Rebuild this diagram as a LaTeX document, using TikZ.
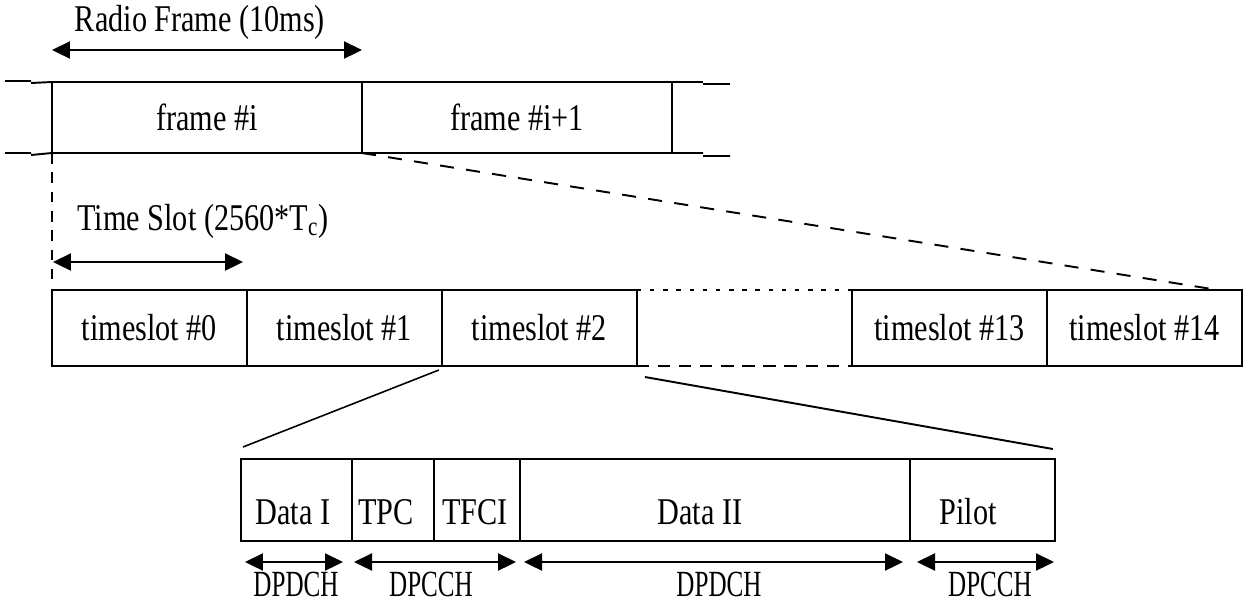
\documentclass[tikz,border=0pt]{standalone}
\usepackage{fontspec}
\setmainfont{Liberation Serif}[FakeStretch=0.8]
\newfontfamily\chfont{Liberation Serif}[FakeStretch=0.68]
\usetikzlibrary{arrows.meta,calc}
\tikzset{
  framebox/.style={draw, line width=1.1pt, inner sep=0pt, outer sep=0pt, anchor=north west, minimum width=6.2cm, minimum height=1.42cm},
  slotbox/.style={draw, line width=1.1pt, inner sep=0pt, outer sep=0pt, anchor=north west, minimum width=3.9cm, minimum height=1.52cm},
  fieldbox/.style={draw, line width=0.9pt, inner sep=0pt, outer sep=0pt, anchor=north west, minimum height=1.64cm},
  span/.style={{Triangle[length=0.36cm,width=0.34cm]}-{Triangle[length=0.36cm,width=0.34cm]}, line width=1.3pt},
  zoomline/.style={line width=1.1pt, dash pattern=on 8pt off 7pt},
  chlabel/.style={font=\chfont\fontsize{21}{25}\selectfont, inner sep=0pt},
}
\begin{document}
\begin{tikzpicture}[x=0.02cm, y=-0.02cm, font=\fontsize{21.5}{25}\selectfont]
\useasboundingbox (0,0) rectangle (1248,603);
% radio frames
\node[framebox] (fr0) at (52,82){frame \#i};
\node[framebox] (fr1) at (fr0.north east){frame \#i+1};
\coordinate (lt0) at (5,81); \coordinate (lt1) at (31,81); \coordinate (lt2) at (31,83);
\coordinate (lb0) at (5,153); \coordinate (lb1) at (31,153); \coordinate (lb2) at (31,155);
\coordinate (rt0) at (703,82); \coordinate (rt1) at (703,84); \coordinate (rt2) at (730,84);
\coordinate (rb0) at (703,153); \coordinate (rb1) at (703,156); \coordinate (rb2) at (730,156);
\draw[line width=1.1pt] (lt0) -- (lt1) (lt2) -- (fr0.north west);
\draw[line width=1.1pt] (lb0) -- (lb1) (lb2) -- (fr0.south west);
\draw[line width=1.1pt] (fr1.north east) -- (rt0) (rt1) -- (rt2);
\draw[line width=1.1pt] (fr1.south east) -- (rb0) (rb1) -- (rb2);
\coordinate (rf0) at (52,50); \coordinate (rf1) at (362,50);
\draw[span] (rf0) -- (rf1);
\node[inner sep=0pt] (rftxt) at (200,22){Radio Frame (10ms)};
% time slots
\node[slotbox] (ts0) at (52,290){timeslot \#0};
\node[slotbox] (ts1) at (ts0.north east){timeslot \#1};
\node[slotbox] (ts2) at (ts1.north east){timeslot \#2};
\node[slotbox] (ts13) at (852,290){timeslot \#13};
\node[slotbox] (ts14) at (ts13.north east){timeslot \#14};
\draw[line width=1pt, dash pattern=on 2.5pt off 5pt] (ts2.north east) -- (ts13.north west);
\draw[line width=1.1pt, dash pattern=on 7pt off 5pt] (ts2.south east) -- (ts13.south west);
\coordinate (tsdrop) at (52,281);
\draw[line width=0.8pt, dash pattern=on 6pt off 5pt] (fr0.south west) -- (tsdrop);
\coordinate (zend) at (1218,290);
\draw[zoomline] (fr1.south west) -- (zend);
\coordinate (ts0l) at (53,262); \coordinate (ts0r) at (243,262);
\draw[span] (ts0l) -- (ts0r);
\node[inner sep=0pt] (tstxt) at (203,221){Time Slot (2560*T\textsubscript{c})};
% slot fields
\node[fieldbox, minimum width=2.22cm] (f0) at (241,459){};
\node[fieldbox, minimum width=1.64cm] (f1) at (f0.north east){};
\node[fieldbox, minimum width=1.72cm] (f2) at (f1.north east){};
\node[fieldbox, minimum width=7.8cm] (f3) at (f2.north east){};
\node[fieldbox, minimum width=2.9cm] (f4) at (f3.north east){};
\node[inner sep=0pt] (f0txt) at (293,512){Data I};
\node[inner sep=0pt] (f1txt) at (386,512){TPC};
\node[inner sep=0pt] (f2txt) at (475,512){TFCI};
\node[inner sep=0pt] (f3txt) at (700,512){Data II};
\node[inner sep=0pt] (f4txt) at (968,512){Pilot};
\draw[line width=0.9pt] ($(ts2.south west)+(-3,4)$) -- ($(f0.north west)+(2,-12)$);
\draw[line width=1.1pt] ($(ts2.south east)+(8,11)$) -- ($(f4.north east)+(-2,-10)$);
% channel spans
\coordinate (c0l) at (245,562); \coordinate (c0r) at (343,562);
\coordinate (c1l) at (354,562); \coordinate (c1r) at (516,562);
\coordinate (c2l) at (524,562); \coordinate (c2r) at (903,562);
\coordinate (c3l) at (917,562); \coordinate (c3r) at (1054,562);
\draw[span] (c0l) -- (c0r);
\draw[span] (c1l) -- (c1r);
\draw[span] (c2l) -- (c2r);
\draw[span] (c3l) -- (c3r);
\node[chlabel] (ch0) at (296,584){DPDCH};
\node[chlabel] (ch1) at (431,584){DPCCH};
\node[chlabel] (ch2) at (719,584){DPDCH};
\node[chlabel] (ch3) at (990,584){DPCCH};
\end{tikzpicture}
\end{document}
